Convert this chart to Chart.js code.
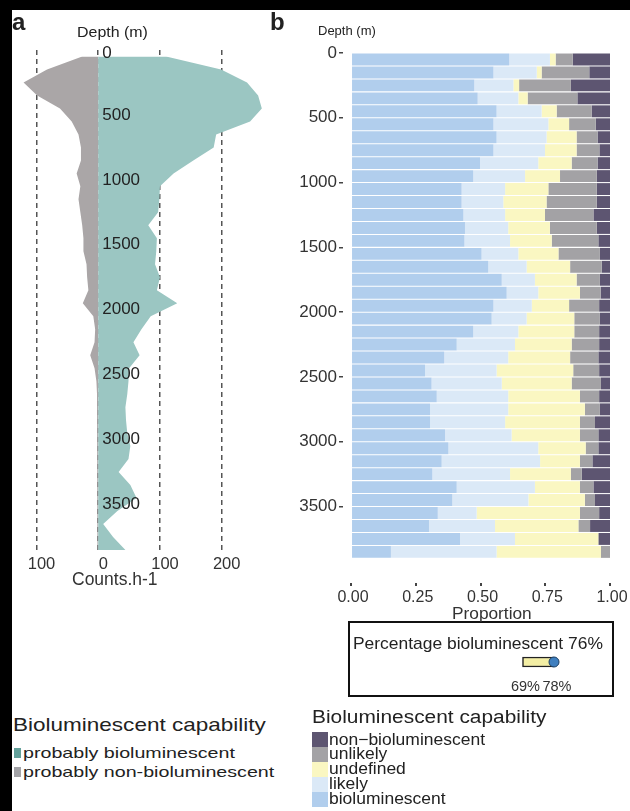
<!DOCTYPE html>
<html lang="en">
<head>
<meta charset="UTF-8">
<title>Bioluminescent capability with depth</title>
<script src="https://cdn.jsdelivr.net/npm/chart.js"></script>
<style>
  html, body { margin: 0; padding: 0; }
  body { width: 630px; height: 811px; background: #000; position: relative; overflow: hidden;
         font-family: 'Liberation Sans', Arial, sans-serif; color: #222; }
  #sheet { position: absolute; left: 12px; top: 10px; right: 0; bottom: 0; background: #fff; }
  canvas { position: absolute; }
  .t { position: absolute; white-space: nowrap; line-height: 1; transform-origin: 0 0; }
  .sw { position: absolute; }
  #pctBox { position: absolute; left: 348px; top: 621px; width: 262px; height: 72px; border: 2px solid #111; }
</style>
</head>
<body>
<div id="sheet"></div>
<canvas id="chartA" width="285" height="600" style="left:0;top:0"></canvas>
<canvas id="chartB" width="360" height="630" style="left:270px;top:0"></canvas>
<div id="pctBox"></div>
<canvas id="chartC" width="262" height="44" style="left:350px;top:652px"></canvas>

<div class="t" style="left:12px;top:9.7px;font-size:24px;font-weight:bold">a</div>
<div class="t" style="left:270px;top:9.7px;font-size:24px;font-weight:bold">b</div>
<div class="t" style="left:77px;top:24.7px;font-size:14.5px;transform:scaleX(1.1)">Depth (m)</div>
<div class="t" style="left:318px;top:24px;font-size:13px">Depth (m)</div>
<div class="t" style="left:72px;top:571.2px;font-size:17.5px;color:#333">Counts.h-1</div>
<div class="t" style="left:452px;top:605.5px;font-size:16px;color:#333;transform:scaleX(1.08)">Proportion</div>
<div class="t" style="left:353px;top:634.6px;font-size:17px;transform:scaleX(1.025)">Percentage bioluminescent 76%</div>
<div id="legendA"></div>
<div id="legendB"></div>

<script>
  // depth bins (m, bin centres, 100 m bins)
  const depthMid = [50, 150, 250, 350, 450, 550, 650, 750, 850, 950,
    1050, 1150, 1250, 1350, 1450, 1550, 1650, 1750, 1850, 1950,
    2050, 2150, 2250, 2350, 2450, 2550, 2650, 2750, 2850, 2950,
    3050, 3150, 3250, 3350, 3450, 3550, 3650, 3750, 3850];
  const depthTicks = [0, 500, 1000, 1500, 2000, 2500, 3000, 3500];

  // panel a: counts per hour
  const countsBio = [110, 199, 241, 259, 265, 246, 191, 187, 154, 122,
    100, 99, 97, 81, 95, 94, 92, 100, 95, 128,
    85, 70, 57, 67, 50, 49, 47, 44, 45, 47,
    52, 49, 33, 52, 62, 31, 8, 24, 44];
  const countsNonBio = [26, 83, 121, 99, 62, 43, 32, 28, 28, 35,
    29, 32, 29, 26, 24, 24, 19, 18, 16, 25,
    8, 5, 6, 13, 6, 3, 2, 2, 2, 2,
    2, 1, 1, 1, 1, 1, 1, 1, 1];
  const countTicks = [-100, 0, 100, 200];

  // panel b: proportions per depth bin
  const propBio = [0.611, 0.550, 0.476, 0.489, 0.562, 0.550, 0.562, 0.550, 0.498, 0.472,
    0.427, 0.427, 0.434, 0.440, 0.438, 0.504, 0.530, 0.582, 0.601, 0.550,
    0.543, 0.472, 0.408, 0.360, 0.286, 0.311, 0.331, 0.305, 0.305, 0.363,
    0.376, 0.350, 0.314, 0.408, 0.391, 0.335, 0.301, 0.421, 0.154];
  const propLikely = [0.157, 0.167, 0.151, 0.157, 0.174, 0.212, 0.193, 0.199, 0.225, 0.200,
    0.168, 0.161, 0.161, 0.167, 0.176, 0.142, 0.148, 0.128, 0.122, 0.148,
    0.135, 0.174, 0.225, 0.247, 0.276, 0.271, 0.276, 0.302, 0.290, 0.257,
    0.347, 0.380, 0.300, 0.302, 0.294, 0.150, 0.255, 0.212, 0.408];
  const propUndefined = [0.022, 0.019, 0.022, 0.036, 0.058, 0.080, 0.116, 0.122, 0.129, 0.135,
    0.167, 0.167, 0.154, 0.161, 0.161, 0.155, 0.168, 0.161, 0.161, 0.144,
    0.184, 0.216, 0.219, 0.239, 0.296, 0.270, 0.277, 0.296, 0.289, 0.264,
    0.183, 0.154, 0.235, 0.174, 0.218, 0.399, 0.322, 0.322, 0.403];
  const propUnlikely = [0.066, 0.184, 0.200, 0.192, 0.135, 0.103, 0.081, 0.088, 0.100, 0.142,
    0.187, 0.194, 0.187, 0.181, 0.180, 0.160, 0.122, 0.090, 0.080, 0.116,
    0.099, 0.096, 0.106, 0.109, 0.100, 0.113, 0.074, 0.058, 0.058, 0.071,
    0.049, 0.048, 0.042, 0.052, 0.039, 0.074, 0.045, 0.000, 0.035];
  const propNonBio = [0.144, 0.080, 0.151, 0.126, 0.071, 0.055, 0.048, 0.041, 0.048, 0.051,
    0.051, 0.051, 0.064, 0.051, 0.045, 0.039, 0.032, 0.039, 0.036, 0.042,
    0.039, 0.042, 0.042, 0.045, 0.042, 0.035, 0.042, 0.039, 0.058, 0.045,
    0.045, 0.068, 0.109, 0.064, 0.058, 0.042, 0.077, 0.045, 0.000];
  const propTicks = [0, 0.25, 0.5, 0.75, 1];

  // percentage bioluminescent range
  const pctLow = 69;
  const pctHigh = 78;

  Chart.defaults.font.family = "'Liberation Sans', Arial, sans-serif";
  Chart.defaults.color = '#333';
  Chart.defaults.animation = false;
  Chart.defaults.responsive = false;
  Chart.defaults.events = [];
  Chart.defaults.plugins.legend.display = false;
  Chart.defaults.plugins.tooltip.enabled = false;

  const colA = { bio: '#9bc6c2', non: '#aaa6a7' };
  const colAKey = ['#64a19b', '#a3a3a7'];
  const colB = ['#b1ceed', '#dbe9f7', '#faf7c2', '#a3a2a5', '#5d5571'];

  // depth labels sit just right of the zero line in panel a
  const depthLabels = {
    id: 'depthLabels',
    afterDraw(chart) {
      const { ctx, scales: { x, y } } = chart;
      ctx.save();
      ctx.font = "17px 'Liberation Sans', Arial, sans-serif";
      ctx.fillStyle = '#222';
      ctx.textAlign = 'left';
      ctx.textBaseline = 'middle';
      depthTicks.forEach(d => ctx.fillText(String(d), x.getPixelForValue(0) + 4, y.getPixelForValue(d) + (d === 0 ? 3 : 0)));
      ctx.restore();
    }
  };

  const areaStyle = { fill: 'origin', borderColor: 'transparent', borderWidth: 0, pointRadius: 0, tension: 0 };

  const chartA = new Chart(document.getElementById('chartA'), {
    type: 'line',
    data: {
      labels: depthMid,
      datasets: [
        { label: 'probably bioluminescent', data: countsBio, backgroundColor: colA.bio, ...areaStyle },
        { label: 'probably non-bioluminescent', data: countsNonBio.map(v => -v), backgroundColor: colA.non, ...areaStyle }
      ]
    },
    options: {
      indexAxis: 'y',
      layout: { autoPadding: false, padding: { left: 18, right: 17, top: 50, bottom: 20 } },
      scales: {
        x: {
          type: 'linear', min: -130, max: 275, z: 1,
          afterBuildTicks: s => { s.ticks = countTicks.map(v => ({ value: v })); },
          afterFit: s => { s.height = 30; },
          grid: { color: '#555', lineWidth: 1.5, drawTicks: false },
          border: { display: false, dash: [5, 4] },
          ticks: { padding: 5, labelOffset: 5, font: { size: 16.5 }, color: '#333', callback: v => Math.abs(v) }
        },
        y: { type: 'linear', reverse: true, min: 0, max: 3850, display: false }
      }
    },
    plugins: [depthLabels]
  });

  const catNames = ['bioluminescent', 'likely', 'undefined', 'unlikely', 'non\u2212bioluminescent'];
  const catData = [propBio, propLikely, propUndefined, propUnlikely, propNonBio];

  const chartB = new Chart(document.getElementById('chartB'), {
    type: 'bar',
    data: {
      labels: depthMid,
      datasets: catNames.map((name, i) => ({
        label: name, data: catData[i], backgroundColor: colB[i], borderWidth: 0,
        barPercentage: 0.92, categoryPercentage: 1
      }))
    },
    options: {
      indexAxis: 'y',
      layout: { autoPadding: false, padding: { left: 21, right: 20, top: 53, bottom: 5 } },
      scales: {
        x: {
          type: 'linear', stacked: true, min: -0.031, max: 1,
          afterBuildTicks: s => { s.ticks = propTicks.map(v => ({ value: v })); },
          afterFit: s => { s.height = 42; },
          grid: { drawOnChartArea: false, tickLength: 3, lineWidth: 2, color: '#444' },
          border: { display: false },
          ticks: { padding: 2, labelOffset: 2, font: { size: 16 }, color: '#333', callback: v => v.toFixed(2) }
        },
        y: {
          type: 'linear', stacked: true, reverse: true, min: 0, max: 4090, offset: false,
          afterBuildTicks: s => { s.ticks = depthTicks.map(v => ({ value: v })); },
          afterFit: s => { s.width = 52; },
          grid: { drawOnChartArea: false, offset: false, tickLength: 4, lineWidth: 1.5, color: '#444' },
          border: { display: false },
          ticks: { padding: 2, font: { size: 17 }, color: '#333', callback: v => String(v) }
        }
      }
    }
  });

  new Chart(document.getElementById('chartC'), {
    type: 'bar',
    data: {
      labels: [0],
      datasets: [
        { type: 'scatter', data: [{ x: pctHigh, y: 0 }], pointRadius: 5, backgroundColor: '#3f7fbf',
          borderColor: '#1d3f63', borderWidth: 1, order: 0 },
        { data: [[pctLow, pctHigh]], backgroundColor: '#f3eea4', borderColor: '#222', borderWidth: 1.5,
          borderSkipped: false, barThickness: 10, order: 1 }
      ]
    },
    options: {
      indexAxis: 'y',
      layout: { autoPadding: false, padding: { left: 120, right: 2, top: 0, bottom: 0 } },
      scales: {
        x: {
          type: 'linear', min: 54, max: 94,
          afterBuildTicks: s => { s.ticks = [pctLow, pctHigh].map(v => ({ value: v })); },
          afterFit: s => { s.height = 24; },
          grid: { display: false, drawTicks: false }, border: { display: false },
          ticks: { padding: 6, labelOffset: 3, font: { size: 14.5 }, color: '#333', callback: v => v + '%' }
        },
        y: { type: 'linear', min: -1, max: 1, offset: false, display: false }
      }
    }
  });

  // html legends built from the chart datasets
  function addText(parent, txt, left, top, size, sx) {
    const d = document.createElement('div');
    d.className = 't';
    d.textContent = txt;
    d.style.left = left + 'px';
    d.style.top = top + 'px';
    d.style.fontSize = size + 'px';
    if (sx) d.style.transform = 'scaleX(' + sx + ')';
    parent.appendChild(d);
  }
  function addSwatch(parent, color, left, top, w, h) {
    const s = document.createElement('div');
    s.className = 'sw';
    Object.assign(s.style, { left: left + 'px', top: top + 'px', width: w + 'px', height: h + 'px', background: color });
    parent.appendChild(s);
  }

  const legA = document.getElementById('legendA');
  addText(legA, 'Bioluminescent capability', 13, 714.9, 19, 1.185);
  chartA.data.datasets.forEach((ds, i) => {
    addSwatch(legA, colAKey[i], 14, 748 + i * 19, 7, 10);
    addText(legA, ds.label, 23, 745.3 + i * 19, 15, 1.31);
  });

  const legB = document.getElementById('legendB');
  addText(legB, 'Bioluminescent capability', 312, 707.8, 18, 1.16);
  chartB.data.datasets.slice().reverse().forEach((ds, i) => {
    addSwatch(legB, ds.backgroundColor, 312, 732 + i * 15, 16, 15);
    addText(legB, ds.label, 329, 730.5 + i * 14.9, 16.5, 1.06);
  });
</script>
</body>
</html>
